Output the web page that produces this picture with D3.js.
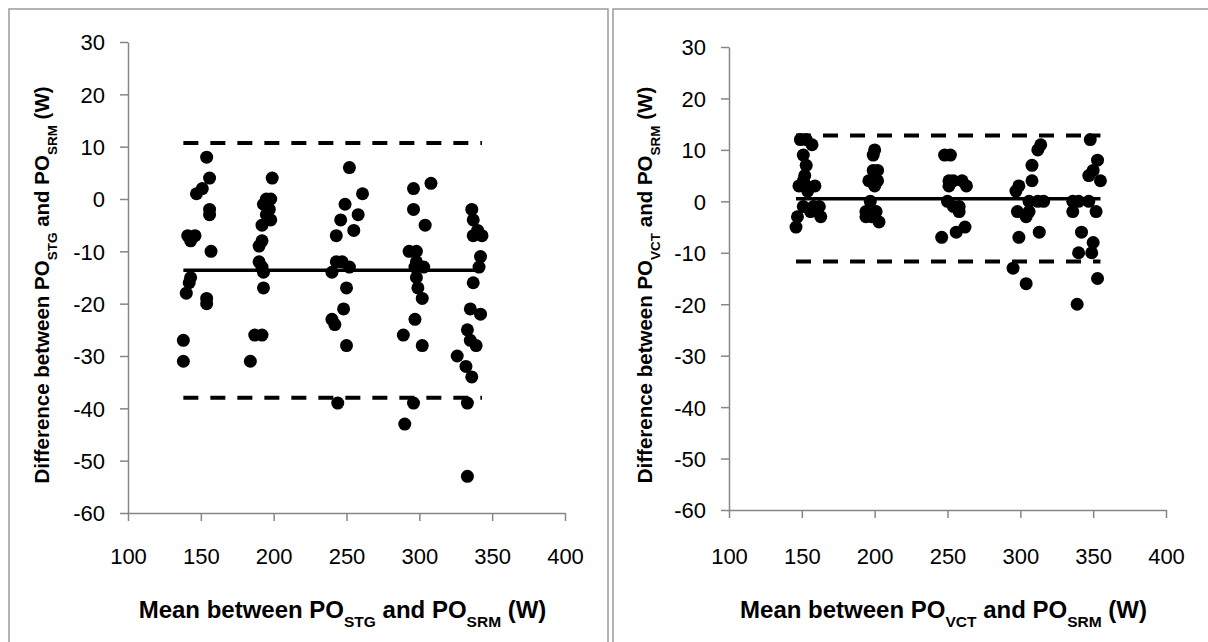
<!DOCTYPE html>
<html>
<head>
<meta charset="utf-8">
<script src="https://cdn.jsdelivr.net/npm/d3@7"></script>
<style>
  body { margin: 0; background: #fff; }
  svg { font-family: "Liberation Sans", Arial, sans-serif; }
</style>
</head>
<body>
<svg id="chart" width="1208" height="642"></svg>
<script>
// Axis ticks shared by both panels
const xTicks = [100, 150, 200, 250, 300, 350, 400];
const yTicks = [30, 20, 10, 0, -10, -20, -30, -40, -50, -60];

// STG vs SRM: [mean, difference]
const stgPoints = [
  [154, 8], [156, 4], [151, 2], [147, 1], [156, -2], [156, -3], [141, -7], [146, -7], [143, -8],
  [157, -10], [143, -15], [142, -16], [140, -18], [154, -19], [154, -20], [138, -27], [138, -31],
  [199, 4], [195, 0], [198, 0], [193, -1], [197, -2], [195, -3], [198, -4], [192, -5], [192, -8],
  [190, -9], [190, -12], [192, -13], [193, -14], [193, -17], [187, -26], [192, -26], [184, -31],
  [252, 6], [261, 1], [249, -1], [258, -3], [246, -4], [255, -6], [243, -7], [243, -12], [247, -12],
  [252, -13], [240, -14], [250, -17], [248, -21], [240, -23], [242, -24], [250, -28], [244, -39],
  [296, 2], [308, 3], [296, -2], [304, -5], [293, -10], [298, -10], [298, -12], [297, -13], [303, -13],
  [298, -15], [299, -17], [302, -19], [297, -23], [289, -26], [302, -28], [296, -39], [290, -43],
  [336, -2], [337, -4], [340, -6], [337, -7], [343, -7], [342, -11], [341, -13], [337, -16], [335, -21],
  [342, -22], [333, -25], [335, -27], [339, -28], [326, -30], [332, -32], [336, -34], [333, -39], [333, -53]
];
const stgMean = -13.6;
const stgLimits = [10.7, -38.0];

// VCT vs SRM: [mean, difference]
const vctPoints = [
  [149, 12], [153, 12], [157, 11], [151, 9], [153, 7], [152, 5], [151, 4], [148, 3], [153, 3], [159, 3],
  [154, 2], [151, -1], [158, -1], [162, -1], [156, -2], [147, -3], [163, -3], [146, -5],
  [200, 10], [199, 9], [202, 6], [199, 6], [196, 4], [202, 4], [200, 3], [197, 0], [194, -2], [201, -2],
  [194, -3], [198, -3], [203, -4],
  [248, 9], [252, 9], [251, 4], [254, 4], [260, 4], [263, 3], [251, 3], [250, 0], [254, -1], [258, -1],
  [258, -2], [256, -6], [262, -5], [246, -7],
  [314, 11], [312, 10], [308, 7], [308, 4], [299, 3], [297, 2], [306, 0], [312, 0], [316, 0], [298, -2],
  [306, -2], [304, -3], [313, -6], [299, -7], [295, -13], [304, -16],
  [348, 12], [353, 8], [350, 6], [347, 5], [355, 4], [336, 0], [340, 0], [347, 0], [336, -2], [352, -2],
  [342, -6], [350, -8], [340, -10], [349, -10], [353, -15], [339, -20]
];
const vctMean = 0.5;
const vctLimits = [12.8, -11.7];

const svg = d3.select("#chart");
const axisGrey = "#868686";

// Panel frames (double divider in the middle)
svg.append("rect").attr("x", 9).attr("y", 9).attr("width", 599).attr("height", 660)
  .attr("fill", "none").attr("stroke", "#9a9a9a").attr("stroke-width", 1.5);
svg.append("rect").attr("x", 613).attr("y", 9).attr("width", 620).attr("height", 660)
  .attr("fill", "none").attr("stroke", "#9a9a9a").attr("stroke-width", 1.5);

// Write a label with subscripted parts
function richText(sel, parts, subSize) {
  parts.forEach(p => {
    if (p.sub) {
      sel.append("tspan").attr("baseline-shift", "sub").attr("font-size", subSize).text(p.sub);
    } else {
      sel.append("tspan").text(p.t);
    }
  });
}

function drawPanel(cfg) {
  const x = d3.scaleLinear().domain([100, 400]).range([cfg.left, cfg.right]);
  const y = d3.scaleLinear().domain([-60, 30]).range([cfg.bottom, cfg.top]);
  const g = svg.append("g");

  const xAxis = g.append("g")
    .attr("transform", `translate(0,${cfg.bottom})`)
    .call(d3.axisBottom(x).tickValues(xTicks).tickFormat(d => d)
      .tickSize(8).tickSizeOuter(0).tickPadding(556 - cfg.bottom - 8 - 8));
  const yAxis = g.append("g")
    .attr("transform", `translate(${cfg.left},0)`)
    .call(d3.axisLeft(y).tickValues(yTicks).tickFormat(d => String(d))
      .tickSize(8).tickSizeOuter(0).tickPadding(15));

  [xAxis, yAxis].forEach(a => {
    a.select(".domain").attr("stroke", axisGrey).attr("stroke-width", 1.5);
    a.selectAll(".tick line").attr("stroke", axisGrey).attr("stroke-width", 1.5);
    a.selectAll(".tick text").attr("fill", "#000").attr("font-size", "22px")
      .attr("font-family", "Liberation Sans, Arial, sans-serif");
  });
  yAxis.selectAll(".tick text").attr("dy", "0.36em");

  const xs = cfg.points.map(d => d[0]);
  const x0 = d3.min(xs), x1 = d3.max(xs);

  // Limits of agreement (dashed) and mean difference (solid)
  cfg.limits.forEach(v => {
    g.append("line")
      .attr("x1", x(x0)).attr("x2", x(x1))
      .attr("y1", y(v)).attr("y2", y(v))
      .attr("stroke", "#000").attr("stroke-width", 4)
      .attr("stroke-dasharray", "15,12");
  });
  g.append("line")
    .attr("x1", x(x0)).attr("x2", x(x1))
    .attr("y1", y(cfg.mean)).attr("y2", y(cfg.mean))
    .attr("stroke", "#000").attr("stroke-width", 3.5);

  g.selectAll("circle.pt")
    .data(cfg.points)
    .enter()
    .append("circle")
    .attr("class", "pt")
    .attr("cx", d => x(d[0]))
    .attr("cy", d => y(d[1]))
    .attr("r", 6.5)
    .attr("fill", "#000");

  // Axis titles
  const xt = g.append("text")
    .attr("x", (cfg.left + cfg.right) / 2 - 4)
    .attr("y", 618)
    .attr("text-anchor", "middle")
    .attr("font-size", "24px").attr("font-weight", "bold");
  richText(xt, [{ t: "Mean between PO" }, { sub: cfg.name }, { t: " and PO" }, { sub: "SRM" }, { t: " (W)" }], "15.5px");

  const yt = g.append("text")
    .attr("transform", `translate(${cfg.yTitleX},${cfg.yTitleY}) rotate(-90)`)
    .attr("text-anchor", "middle")
    .attr("font-size", "20.5px").attr("font-weight", "bold");
  richText(yt, [{ t: "Difference between PO" }, { sub: cfg.name }, { t: " and PO" }, { sub: "SRM" }, { t: " (W)" }], "13.5px");
}

drawPanel({
  name: "STG", points: stgPoints, mean: stgMean, limits: stgLimits,
  left: 128, right: 565, top: 42, bottom: 513,
  yTitleX: 49, yTitleY: 285
});
drawPanel({
  name: "VCT", points: vctPoints, mean: vctMean, limits: vctLimits,
  left: 729, right: 1166, top: 47, bottom: 510,
  yTitleX: 652, yTitleY: 285
});
</script>
</body>
</html>
